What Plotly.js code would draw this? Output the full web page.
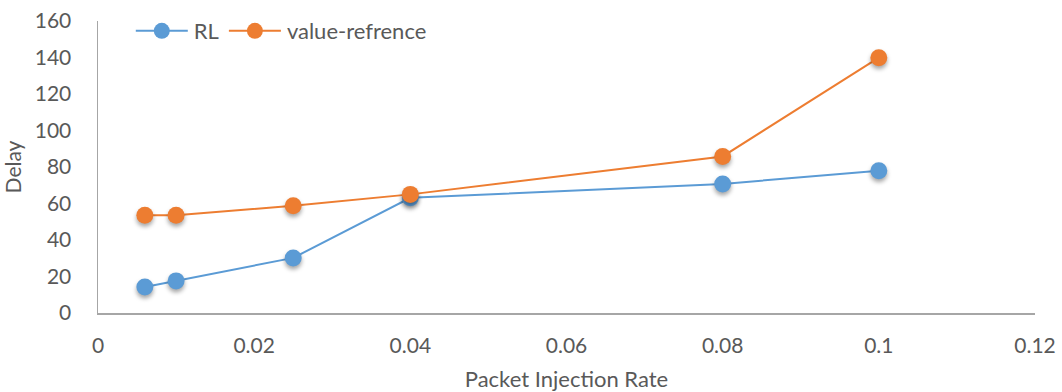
<!DOCTYPE html>
<html>
<head>
<meta charset="utf-8">
<script src="https://cdn.plot.ly/plotly-3.0.1.min.js"></script>
<style>
  html, body { margin: 0; padding: 0; background: #fff; }
  #chart { width: 1062px; height: 392px; }
  /* soft drop shadow under the data markers */
  .scatterlayer .trace .points path { filter: drop-shadow(0px 3px 2px rgba(0,0,0,0.35)); }
</style>
</head>
<body>
<div id="chart"></div>
<script>
// Packet injection rates tested
const injectionRate = [0.006, 0.01, 0.025, 0.04, 0.08, 0.1];
// Average delay per method
const delayRL = [14.3, 17.6, 30.2, 63.1, 70.7, 78.0];
const delayValueRef = [53.5, 53.5, 58.8, 65.0, 85.8, 139.9];
const seriesNames = ['RL', 'value-refrence'];
const yTicks = [0, 20, 40, 60, 80, 100, 120, 140, 160];
const xTicks = [0, 0.02, 0.04, 0.06, 0.08, 0.1, 0.12];

const fontFamily = 'Lato, "Open Sans", sans-serif';
const textColor = '#595959';
const tickSize = 21;
const labelSize = 22;
const legendCenterY = 31;   // vertical centre of the legend row, px from the top

const traces = [
  {
    x: injectionRate, y: delayRL, name: seriesNames[0],
    type: 'scatter', mode: 'lines+markers',
    line: { color: '#5B9BD5', width: 2 },
    marker: { color: '#5B9BD5', size: 17, symbol: 'circle' }
  },
  {
    x: injectionRate, y: delayValueRef, name: seriesNames[1],
    type: 'scatter', mode: 'lines+markers',
    line: { color: '#ED7D31', width: 2 },
    marker: { color: '#ED7D31', size: 17, symbol: 'circle' }
  }
];

const layout = {
  width: 1062, height: 392,
  margin: { l: 98, r: 27, t: 21, b: 78.5 },
  paper_bgcolor: '#ffffff', plot_bgcolor: '#ffffff',
  font: { family: fontFamily, size: tickSize, color: textColor },
  showlegend: true,
  legend: {
    orientation: 'h', x: 0.035, xanchor: 'left', y: 0.85, yanchor: 'middle',
    font: { family: fontFamily, size: labelSize, color: textColor },
    bgcolor: 'rgba(0,0,0,0)', itemwidth: 53
  },
  xaxis: {
    range: [0, 0.12], tickvals: xTicks, ticktext: xTicks.map(String),
    showgrid: false, zeroline: false, automargin: false,
    showline: true, linecolor: '#a6a6a6', linewidth: 1.5,
    ticks: 'outside', ticklen: 13, tickcolor: 'rgba(0,0,0,0)',
    tickfont: { family: fontFamily, size: tickSize, color: textColor },
    title: { text: 'Packet Injection Rate', standoff: 17,
             font: { family: fontFamily, size: labelSize, color: textColor } }
  },
  yaxis: {
    range: [0, 160], tickvals: yTicks, ticktext: yTicks.map(String),
    showgrid: false, zeroline: false, automargin: false,
    showline: true, linecolor: '#a6a6a6', linewidth: 1.5,
    ticks: 'outside', ticklen: 21, tickcolor: 'rgba(0,0,0,0)',
    tickfont: { family: fontFamily, size: tickSize, color: textColor },
    title: { text: 'Delay', standoff: 12,
             font: { family: fontFamily, size: tickSize, color: textColor } }
  }
};

// Stretch the legend line samples across the wider item slot and
// lift the legend row up into the top corner without pushing the margins
function styleLegend(gd) {
  const w = layout.legend.itemwidth;
  gd.querySelectorAll('.legend .legendlines path').forEach(p => {
    p.setAttribute('d', 'M5,0h' + (w - 1));
  });
  gd.querySelectorAll('.legend .legendpoints path').forEach(p => {
    p.setAttribute('transform', 'translate(' + (5 + (w - 1) / 2) + ',0)');
  });
  const lg = gd.querySelector('g.legend');
  const bg = lg && lg.querySelector('rect.bg');
  if (lg && bg) {
    const m = /translate\(\s*([-\d.]+)[ ,]+([-\d.]+)\s*\)/.exec(lg.getAttribute('transform') || '');
    if (m) {
      const h = parseFloat(bg.getAttribute('height')) || bg.getBBox().height;
      lg.setAttribute('transform', 'translate(' + m[1] + ',' + (legendCenterY - h / 2) + ')');
    }
  }
}

Plotly.newPlot('chart', traces, layout, { displayModeBar: false, staticPlot: true })
  .then(styleLegend);
</script>
</body>
</html>
